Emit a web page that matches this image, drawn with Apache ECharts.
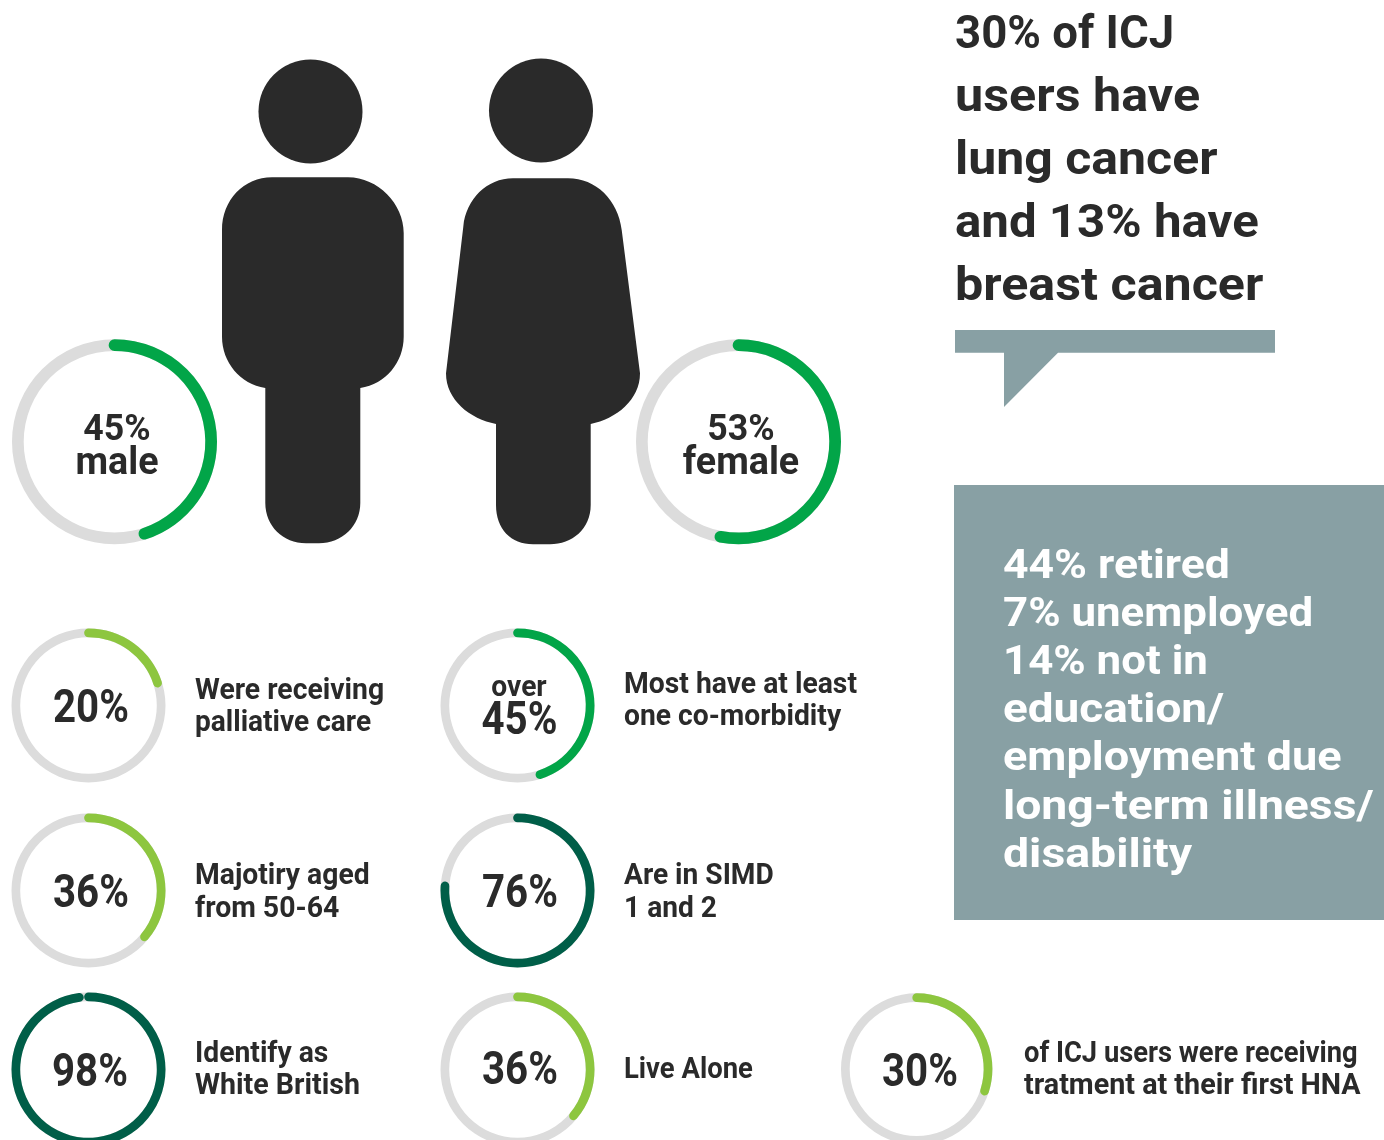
<!DOCTYPE html>
<html>
<head>
<meta charset="utf-8">
<style>html,body{margin:0;padding:0;background:#fff}#chart{width:1384px;height:1140px}</style>
<script src="https://cdn.jsdelivr.net/npm/echarts@6/dist/echarts.min.js"></script>
</head>
<body>
<div id="chart"></div>
<script>
// Headline figures for the ICJ user profile
const donutNames = ['male', 'female', 'palliative', 'comorbidity', 'aged', 'simd', 'british', 'alone', 'treatment'];
const donutValues = [45, 53, 20, 45, 36, 76, 98, 36, 30];
const donutPrefix = ['', '', '', 'over', '', '', '', '', ''];
const donutSuffix = ['male', 'female', '', '', '', '', '', '', ''];
const captions = [
  null, null,
  ['Were receiving', 'palliative care'],
  ['Most have at least', 'one co-morbidity'],
  ['Majotiry aged', 'from 50-64'],
  ['Are in SIMD', '1 and 2'],
  ['Identify as', 'White British'],
  ['Live Alone'],
  ['of ICJ users were receiving', 'tratment at their first HNA']
];
const quoteLines = ['30% of ICJ', 'users have', 'lung cancer', 'and 13% have', 'breast cancer'];
const panelLines = ['44% retired', '7% unemployed', '14% not in', 'education/', 'employment due', 'long-term illness/', 'disability'];

// Layout and palette
const INK = '#2a2a2a', TRACK = '#dcdcdc', SLATE = '#88a0a4';
const GREEN = '#02a548', LIME = '#8dc63f', PINE = '#005e48';
const FACE = 'Roboto, sans-serif';
const ringColors = [GREEN, GREEN, LIME, GREEN, LIME, PINE, PINE, LIME, LIME];
const ringCenters = [[114.5, 441.8], [738.5, 441.8], [88.5, 705.5], [517.5, 705.5], [88.5, 890.5], [517.5, 890.5], [88.5, 1069.5], [517.5, 1069.5], [916.7, 1069]];
const ringRadii = [102.5, 102.5, 77, 77, 77, 77, 77, 77, 75.7];
const ringWidths = [11.7, 11.7, 8.7, 8.7, 8.7, 8.7, 8.7, 8.7, 8.7];
const percentCenters = [null, null, [91, 707], [519.5, 719], [91, 892], [520, 892], [90, 1071], [520, 1069], [920, 1071]];
const captionAnchors = [null, null, [195, 691.5], [624, 685.5], [195, 877], [624, 877], [195, 1054.5], [624, 1070.5], [1024, 1054.5]];
const captionStretch = [null, null, [0.978, 0.968], [0.976, 0.974], [0.975, 0.98], [0.97, 0.97], [0.975, 0.985], [0.946], [0.942, 0.99]];
const quoteStretch = [0.99, 1.094, 1.087, 1.07, 1.092];
const panelStretch = [1.113, 1.096, 1.096, 1.147, 1.127, 1.157, 1.16];

const maleBody = 'M265.3 388 C240 384 222 362 222 336.7 L222 230 C222 200 244 177.3 272 177.3 L348 177.3 C378 177.3 403.7 204 403.7 233 L403.7 336.7 C403.7 362 386 384 360.3 388 L360.3 503 C360.3 526 342 543.3 319 543.3 L306 543.3 C283 543.3 265.3 526 265.3 503 Z';
const femaleBody = 'M496 424 C470 419 446 400 446 373.3 L463.3 226.7 C466 199 487 178.3 513 178.3 L568 178.3 C596 178.3 618 200 621.7 230 L640 373.3 C640 400 616 419 590.7 424 L590.7 505 C590.7 529 572 544.3 550 544.3 L533 544.3 C511 544.3 496 529 496 505 Z';

function label(text, x, y, size, color, align, stretch) {
  return {
    type: 'text', x, y, scaleX: stretch || 1, silent: true,
    style: { text, x: 0, y: 0, font: '700 ' + size + 'px ' + FACE, fill: color || INK, align: align || 'left', verticalAlign: 'middle' }
  };
}

const ringSeries = donutNames.map((name, i) => ({
  type: 'gauge', name, center: ringCenters[i], radius: ringRadii[i],
  startAngle: 90, endAngle: -270, min: 0, max: 100, silent: true, animation: false,
  axisLine: { lineStyle: { width: ringWidths[i], color: [[1, TRACK]] } },
  progress: { show: true, roundCap: true, width: ringWidths[i], itemStyle: { color: ringColors[i] } },
  pointer: { show: false }, anchor: { show: false }, title: { show: false }, detail: { show: false },
  axisTick: { show: false }, splitLine: { show: false }, axisLabel: { show: false },
  data: [{ value: donutValues[i], name }]
}));

// Male and female silhouettes
const figures = {
  type: 'custom', coordinateSystem: 'none', silent: true, animation: false, data: [[0]],
  renderItem: () => ({
    type: 'group',
    children: [maleBody, femaleBody].map(pathData => ({ type: 'path', shape: { pathData }, style: { fill: INK } }))
      .concat([[310.5, 111.5], [541, 110.5]].map(([cx, cy]) => ({ type: 'circle', shape: { cx, cy, r: 52 }, style: { fill: INK } })))
  })
};

const elements = [];
// Speech-bubble tail under the quote, and the employment panel
elements.push({ type: 'polygon', silent: true, shape: { points: [[955, 330], [1275, 330], [1275, 352.7], [1058, 352.7], [1004, 407], [1004, 352.7], [955, 352.7]] }, style: { fill: SLATE } });
elements.push({ type: 'rect', silent: true, shape: { x: 954, y: 485, width: 430, height: 435 }, style: { fill: SLATE } });

quoteLines.forEach((t, i) => elements.push(label(t, 955, 36 + i * 63, 46, INK, 'left', quoteStretch[i])));
panelLines.forEach((t, i) => elements.push(label(t, 1003, 567.5 + i * 48.2, 40, '#fff', 'left', panelStretch[i])));

donutValues.forEach((v, i) => {
  const pct = v + '%';
  if (i < 2) {
    const cx = ringCenters[i][0] + 2.5;
    elements.push(label(pct, cx, 431, 37, INK, 'center', 0.964));
    elements.push(label(donutSuffix[i], cx, 464, 38, INK, 'center', 0.99));
    return;
  }
  if (donutPrefix[i]) elements.push(label(donutPrefix[i], ringCenters[i][0] + 1.5, 689, 29, INK, 'center', 0.973));
  elements.push(label(pct, percentCenters[i][0], percentCenters[i][1] + 3, 46, INK, 'center', 0.875));
  captions[i].forEach((t, k) => elements.push(label(t, captionAnchors[i][0], captionAnchors[i][1] + k * 32.6, 29, INK, 'left', captionStretch[i][k])));
});

const chart = echarts.init(document.getElementById('chart'), null, { renderer: 'canvas' });
chart.setOption({
  backgroundColor: '#fff',
  animation: false,
  series: ringSeries.concat(figures),
  graphic: { elements }
});
</script>
</body>
</html>
